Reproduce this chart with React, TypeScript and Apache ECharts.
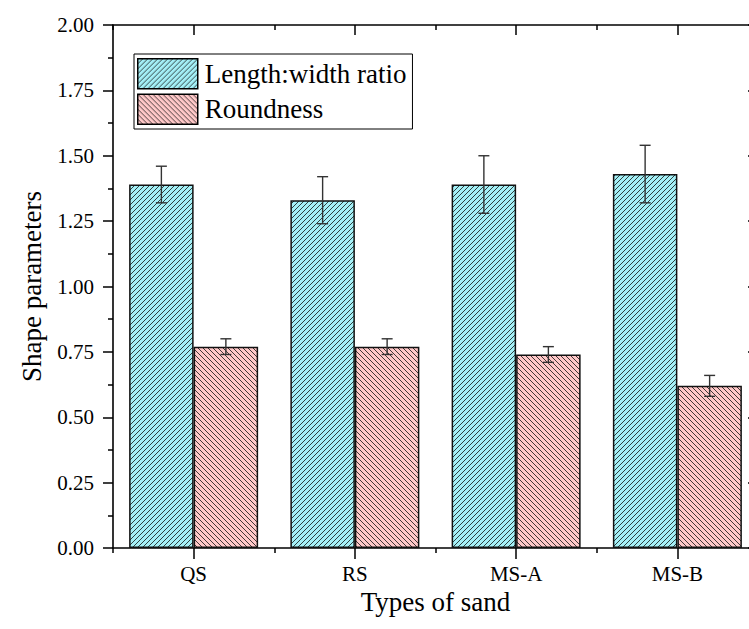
import React, { useEffect, useRef } from "react";
import * as echarts from "echarts";

const categories = ["QS", "RS", "MS-A", "MS-B"];
const ratioValues = [1.39, 1.33, 1.39, 1.43];
const ratioErrors = [0.07, 0.09, 0.11, 0.11];
const roundValues = [0.77, 0.77, 0.74, 0.62];
const roundErrors = [0.03, 0.03, 0.03, 0.04];
const seriesNames = ["Length:width ratio", "Roundness"];

const FONT = "'Liberation Serif', 'Times New Roman', serif";

function hatch(bg: string, forward: boolean) {
  const d = forward
    ? "M-1,1 L1,-1 M0,5 L5,0 M4,6 L6,4"
    : "M-1,4 L1,6 M0,0 L5,5 M4,-1 L6,1";
  const svg = `<svg xmlns='http://www.w3.org/2000/svg' width='5' height='5'><rect width='5' height='5' fill='${bg}'/><path d='${d}' stroke='#111' stroke-width='0.8'/></svg>`;
  return {
    image: "data:image/svg+xml;charset=utf-8," + encodeURIComponent(svg),
    repeat: "repeat",
    imageWidth: 5,
    imageHeight: 5,
  } as any;
}

export default function App() {
  const ref = useRef<HTMLDivElement>(null);
  useEffect(() => {
    if (!ref.current) return;
    const chart = echarts.init(ref.current, null, { renderer: "svg" });
    const cyan = hatch("#A4F0F7", true);
    const pink = hatch("#FFC8C8", false);

    const errSeries = (vals: number[], errs: number[], sign: number) => ({
      type: "custom",
      xAxisIndex: 0,
      yAxisIndex: 0,
      z: 10,
      silent: true,
      data: vals.map((v, i) => [i, v, errs[i]]),
      encode: { x: 0, y: 1 },
      renderItem: (params: any, api: any) => {
        const idx = api.value(0);
        const v = api.value(1);
        const e = api.value(2);
        const bw = api.size([1, 0])[0];
        const c = api.coord([idx, v]);
        const x = c[0] + sign * bw * 0.2;
        const top = api.coord([idx, v + e])[1];
        const bot = api.coord([idx, v - e])[1];
        const half = 5.5;
        const st = { stroke: "#333", lineWidth: 1.4 };
        return {
          type: "group",
          children: [
            { type: "line", shape: { x1: x, y1: top, x2: x, y2: bot }, style: st },
            { type: "line", shape: { x1: x - half, y1: top, x2: x + half, y2: top }, style: st },
            { type: "line", shape: { x1: x - half, y1: bot, x2: x + half, y2: bot }, style: st },
          ],
        };
      },
    });

    const axisLine = { show: true, lineStyle: { color: "#000", width: 1.6 } };

    chart.setOption({
      animation: false,
      backgroundColor: "#fff",
      grid: { left: 113, top: 25, width: 645, height: 523, containLabel: false, outerBoundsMode: "none" },
      legend: {
        data: seriesNames,
        orient: "vertical",
        left: 134,
        top: 54,
        icon: "rect",
        itemWidth: 60,
        itemHeight: 30,
        itemGap: 4,
        padding: [4, 6, 4, 3],
        borderColor: "#000",
        borderWidth: 1,
        backgroundColor: "#fff",
        itemStyle: { borderColor: "#000", borderWidth: 1.5 },
        textStyle: { fontFamily: FONT, fontSize: 27, color: "#000", padding: [0, 0, 0, 2] },
        selectedMode: false,
      },
      xAxis: [
        {
          type: "category",
          data: categories,
          position: "bottom",
          axisLine,
          axisTick: { show: true, alignWithLabel: true, length: 11, lineStyle: { color: "#000", width: 1.5 } },
          axisLabel: { fontFamily: FONT, fontSize: 21, color: "#000", margin: 15 },
          name: "Types of sand",
          nameLocation: "middle",
          nameGap: 40,
          nameTextStyle: { fontFamily: FONT, fontSize: 27, color: "#000" },
        },
        {
          type: "category",
          data: categories,
          position: "bottom",
          axisLine: { show: false },
          axisTick: { show: true, length: 5, lineStyle: { color: "#000", width: 1.5 } },
          axisLabel: { show: false },
        },
        {
          type: "category",
          data: categories,
          position: "top",
          axisLine,
          axisTick: { show: true, inside: true, alignWithLabel: true, length: 10, lineStyle: { color: "#000", width: 1.5 } },
          axisLabel: { show: false },
        },
        {
          type: "category",
          data: categories,
          position: "top",
          axisLine: { show: false },
          axisTick: { show: true, inside: true, length: 5, lineStyle: { color: "#000", width: 1.5 } },
          axisLabel: { show: false },
        },
      ],
      yAxis: [
        {
          type: "value",
          min: 0,
          max: 2,
          interval: 0.25,
          position: "left",
          axisLine,
          axisTick: { show: true, length: 10, lineStyle: { color: "#000", width: 1.5 } },
          minorTick: { show: true, splitNumber: 2, length: 5, lineStyle: { color: "#000", width: 1.5 } },
          splitLine: { show: false },
          axisLabel: {
            fontFamily: FONT,
            fontSize: 21,
            color: "#000",
            margin: 19,
            formatter: (v: number) => v.toFixed(2),
          },
          name: "Shape parameters",
          nameLocation: "middle",
          nameGap: 68,
          nameRotate: 90,
          nameTextStyle: { fontFamily: FONT, fontSize: 27, color: "#000" },
        },
        {
          type: "value",
          min: 0,
          max: 2,
          interval: 0.25,
          position: "right",
          axisLine,
          axisTick: { show: true, inside: true, length: 10, lineStyle: { color: "#000", width: 1.5 } },
          minorTick: { show: false },
          splitLine: { show: false },
          axisLabel: { show: false },
        },
      ],
      series: [
        {
          name: seriesNames[0],
          type: "bar",
          xAxisIndex: 0,
          yAxisIndex: 0,
          data: ratioValues,
          barGap: "0%",
          barCategoryGap: "20%",
          itemStyle: { color: cyan, borderColor: "#111", borderWidth: 1.5 },
        },
        {
          name: seriesNames[1],
          type: "bar",
          xAxisIndex: 0,
          yAxisIndex: 0,
          data: roundValues,
          barGap: "0%",
          barCategoryGap: "20%",
          itemStyle: { color: pink, borderColor: "#111", borderWidth: 1.5 },
        },
        errSeries(ratioValues, ratioErrors, -1),
        errSeries(roundValues, roundErrors, 1),
      ],
    });
    return () => chart.dispose();
  }, []);
  return (
    <div
      ref={ref}
      style={{ position: "fixed", left: 0, top: 0, width: 749, height: 629, overflow: "hidden", background: "#fff" }}
    />
  );
}
